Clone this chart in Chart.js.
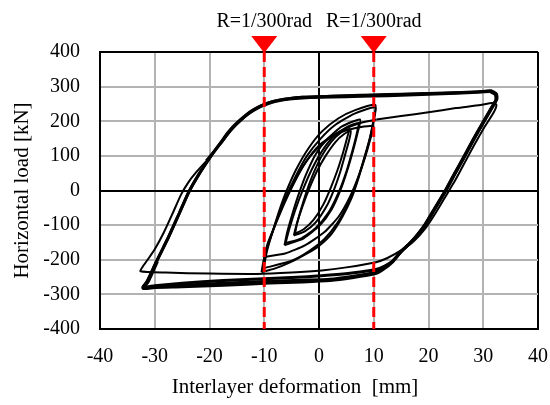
<!DOCTYPE html>
<html>
<head>
<meta charset="utf-8">
<script src="https://cdn.jsdelivr.net/npm/chart.js@4"></script>
<style>
  html, body { margin: 0; padding: 0; background: #fff; }
  canvas { display: block; }
</style>
</head>
<body>
<canvas id="chart" width="550" height="405"></canvas>
<script>
// Eixos
const xTicks = [-40, -30, -20, -10, 0, 10, 20, 30, 40];
const yTicks = [-400, -300, -200, -100, 0, 100, 200, 300, 400];
const markerX = [-10, 10];
const markerLabels = ['R=1/300rad', 'R=1/300rad'];

// Ciclos pequenos (x mm, y kN)
const smallLoop1 = [[-4.4,-125],[-4.0,-95],[-3.2,-50],[-2.2,0],[-1,50],[0.5,100],[2.2,140],[3.8,165],[5.5,178],[5.1,150],[4.4,110],[3.4,60],[2.2,10],[0.8,-40],[-1,-85],[-2.8,-112],[-4.4,-125]];
const smallLoop2 = [[-4.6,-130],[-4.1,-98],[-3.0,-45],[-1.8,5],[-0.4,55],[1.2,100],[3,140],[4.6,163],[5.8,172],[5.5,145],[4.8,105],[3.9,55],[2.8,5],[1.4,-45],[-0.6,-92],[-2.6,-118],[-4.6,-130]];
const smallLoop3 = [[-6.3,-158],[-5.8,-120],[-4.9,-70],[-3.8,-15],[-2.4,45],[-0.6,105],[1.6,150],[4.2,185],[7.5,205],[7.1,170],[6.3,120],[5.2,60],[3.9,0],[2.3,-55],[0.2,-100],[-2.8,-138],[-6.3,-158]];
const smallLoop4 = [[-6.1,-152],[-5.4,-110],[-4.3,-55],[-3,0],[-1.5,55],[0.4,110],[2.6,155],[5,182],[7.2,195],[6.9,165],[6.1,115],[5,55],[3.6,-5],[1.8,-62],[-0.6,-108],[-3.2,-138],[-6.1,-152]];
const smallLoop5 = [[-10.5,-236],[-10.1,-200],[-9.5,-164],[-8.5,-120],[-7.3,-60],[-5.9,0],[-4.2,60],[-2,120],[0.5,170],[3.5,208],[6.6,232],[10.3,247],[9.9,200],[9.3,150],[8.4,100],[7.3,40],[6,-20],[4.3,-75],[2.3,-125],[0,-160],[-2,-180],[-5.6,-210],[-8,-225],[-10.5,-236]];
const smallLoop6 = [[-10.2,-225],[-9.8,-185],[-8.9,-140],[-7.6,-80],[-6.1,-20],[-4.3,40],[-2.2,100],[0.3,150],[3,190],[6.5,222],[10.3,240],[9.9,195],[9.1,140],[8.1,85],[6.8,20],[5.2,-40],[3.3,-95],[1,-140],[-1.8,-175],[-5,-203],[-10.2,-225]];
const smallLoop7 = [[-10.1,-192],[-9.3,-150],[-8,-100],[-6.4,-40],[-4.6,20],[-2.5,80],[0,130],[3,163],[6.5,180],[9.9,185],[9.4,150],[8.5,100],[7.2,40],[5.6,-20],[3.6,-75],[1,-120],[-2.5,-158],[-6.2,-182],[-10.1,-192]];
const smallLoop8 = [[-10,-215],[-9.5,-175],[-8.6,-125],[-7.2,-65],[-5.5,-5],[-3.5,55],[-1,110],[1.8,150],[5,180],[8,197],[10.5,205]];

// Ciclos grandes +-32 mm
const bigCycle1 = [[10.5,205],[15,215],[20,226],[25,238],[29.5,247],[31.6,253],[32.4,248],[31.9,225],[30.1,180],[28.3,130],[26.6,80],[24.9,30],[23.2,-15],[21.3,-65],[19.5,-108],[17.4,-145],[15.2,-171],[12.5,-195],[10.4,-207],[5,-222],[0.5,-231],[-5,-237],[-11.4,-241],[-20,-240],[-28,-237],[-32.6,-233],[-32.2,-220],[-31.3,-200],[-30.0,-170],[-28.3,-120],[-26.7,-65],[-25.2,-12],[-23.8,25],[-22.3,55],[-20.6,85]];
const bigCycle2 = [[-20.6,85],[-18.9,118],[-17.8,142],[-16.7,166],[-15.6,186],[-14.4,204],[-13.2,220],[-12,233],[-10.7,244],[-9.2,253],[-7.5,260],[-5.5,265],[-3,269],[0,271],[5,274],[10,276],[15,278],[20,280],[25,282],[29,284],[31.4,288],[32.4,279],[32.5,265],[31.8,244],[30,195],[28.2,145],[26.5,95],[24.8,47],[23.2,0],[21.3,-50],[19.6,-95],[18.2,-125],[16.8,-150],[15.2,-173],[13.5,-203],[12,-218],[10.4,-228],[6,-238],[2,-244],[-3,-250],[-9,-254],[-17.5,-260],[-25,-268],[-30,-275],[-32.1,-279],[-31.4,-262],[-29.7,-205],[-27.5,-135],[-25.5,-65],[-23.8,-5],[-21.9,48],[-19.9,96],[-18.8,120],[-17.7,142],[-16.6,165],[-15.5,185],[-14.3,203],[-13.1,219],[-11.9,232],[-10.6,243],[-9.1,252],[-7.4,259],[-5.4,264],[-3,267],[0,269],[5,271],[10,273],[15,275],[20,278],[25,281],[29,284],[31.2,286]];
const bigCycle3 = [[31.2,286],[32.2,277],[32.3,262],[31.6,242],[29.8,193],[28,143],[26.3,93],[24.6,45],[23,-2],[21.1,-52],[19.4,-97],[18,-127],[16.6,-152],[15,-176],[13.4,-205],[11.8,-224],[10.2,-237],[6,-248],[2,-256],[-3,-259],[-9,-262],[-17.5,-268],[-25,-274],[-30,-278],[-32.2,-281],[-31.3,-262],[-29.6,-203],[-27.4,-132],[-25.4,-62],[-23.7,-2],[-21.8,50],[-19.8,98],[-18.7,122],[-17.6,144],[-16.5,167],[-15.4,187],[-14.2,205],[-13,221],[-11.8,234],[-10.5,245],[-9,254],[-7.3,261],[-5.3,266],[-3,269],[0,271],[5,273],[10,275],[15,277],[20,280],[25,282],[29,285],[31.3,287]];
const bigCycle4 = [[31.3,287],[32.3,278],[32.4,263],[31.7,243],[29.9,194],[28.1,144],[26.4,94],[24.7,46],[23.1,-1],[21.2,-51],[19.5,-96],[18.1,-126],[16.7,-151],[15.1,-175],[13.4,-207],[11.9,-226],[10.3,-240],[6,-252],[2,-260],[-3,-264],[-9,-267],[-17.5,-274],[-25,-278],[-30,-280],[-32.1,-283],[-31.2,-264],[-29.5,-205]];

// Rotulos
const xTitle = 'Interlayer deformation  [mm]';
const yTitle = 'Horizontal load [kN]';

const SERIF = '"Liberation Serif", "Times New Roman", serif';

function toPoints(arr) {
    return arr.map(p => ({ x: p[0], y: p[1] }));
}

function curva(arr, width) {
    return {
        data: toPoints(arr),
        showLine: true,
        borderColor: '#000',
        borderWidth: width,
        pointRadius: 0,
        tension: 0.2,
        fill: false
    };
}

function linhaMarcador(x) {
    return {
        data: [{ x: x, y: yTicks[yTicks.length - 1] }, { x: x, y: yTicks[0] }],
        showLine: true,
        borderColor: '#ff0000',
        borderWidth: 3,
        borderDash: [10, 5],
        pointRadius: 0,
        tension: 0
    };
}

function gridColor(ctx, lim) {
    const v = ctx.tick.value;
    if (v === 0 || Math.abs(v) === lim) return '#000';
    return '#b3b3b3';
}

// Triangulos, rotulos R=1/300rad e titulos dos eixos
const annotations = {
    id: 'annotations',
    afterDraw(chart) {
        const { ctx, chartArea, scales } = chart;
        ctx.save();
        markerX.forEach((mx, i) => {
            const px = scales.x.getPixelForValue(mx);
            ctx.fillStyle = '#ff0000';
            ctx.beginPath();
            ctx.moveTo(px - 13, chartArea.top - 16);
            ctx.lineTo(px + 13, chartArea.top - 16);
            ctx.lineTo(px, chartArea.top + 1);
            ctx.closePath();
            ctx.fill();
            ctx.fillStyle = '#000';
            ctx.font = '20px ' + SERIF;
            ctx.textAlign = 'center';
            ctx.textBaseline = 'middle';
            ctx.fillText(markerLabels[i], px, 22);
        });
        ctx.fillStyle = '#000';
        ctx.font = '21px ' + SERIF;
        ctx.textAlign = 'center';
        ctx.textBaseline = 'middle';
        ctx.fillText(xTitle, 295, 387);
        ctx.translate(22, (chartArea.top + chartArea.bottom) / 2);
        ctx.rotate(-Math.PI / 2);
        ctx.fillText(yTitle, 0, 0);
        ctx.restore();
    }
};

const ctx = document.getElementById('chart').getContext('2d');
new Chart(ctx, {
    type: 'scatter',
    data: {
        datasets: [
            linhaMarcador(markerX[0]),
            linhaMarcador(markerX[1]),
            curva(smallLoop1, 2),
            curva(smallLoop2, 2),
            curva(smallLoop3, 2),
            curva(smallLoop4, 2),
            curva(smallLoop5, 2),
            curva(smallLoop6, 2),
            curva(smallLoop7, 2),
            curva(smallLoop8, 2),
            curva(bigCycle1, 2),
            curva(bigCycle2, 3),
            curva(bigCycle3, 3),
            curva(bigCycle4, 3)
        ]
    },
    options: {
        responsive: false,
        animation: false,
        devicePixelRatio: 1,
        layout: { padding: { top: 52, right: 12, left: 0, bottom: 0 } },
        plugins: {
            legend: { display: false },
            tooltip: { enabled: false }
        },
        scales: {
            x: {
                type: 'linear',
                min: xTicks[0],
                max: xTicks[xTicks.length - 1],
                afterBuildTicks: s => { s.ticks = xTicks.map(v => ({ value: v })); },
                afterFit: s => { s.height = 76; s.paddingLeft = 0; s.paddingRight = 0; },
                ticks: { color: '#000', font: { family: SERIF, size: 20 }, padding: 16 },
                grid: {
                    color: c => gridColor(c, 40),
                    lineWidth: 2,
                    drawTicks: false
                },
                border: { color: '#000', width: 2 }
            },
            y: {
                type: 'linear',
                min: yTicks[0],
                max: yTicks[yTicks.length - 1],
                afterBuildTicks: s => { s.ticks = yTicks.map(v => ({ value: v })); },
                afterFit: s => { s.width = 100; s.paddingTop = 0; s.paddingBottom = 0; },
                ticks: { color: '#000', font: { family: SERIF, size: 20 }, padding: 20 },
                grid: {
                    color: c => gridColor(c, 400),
                    lineWidth: 2,
                    drawTicks: false
                },
                border: { color: '#000', width: 2 }
            }
        }
    },
    plugins: [annotations]
});
</script>
</body>
</html>
